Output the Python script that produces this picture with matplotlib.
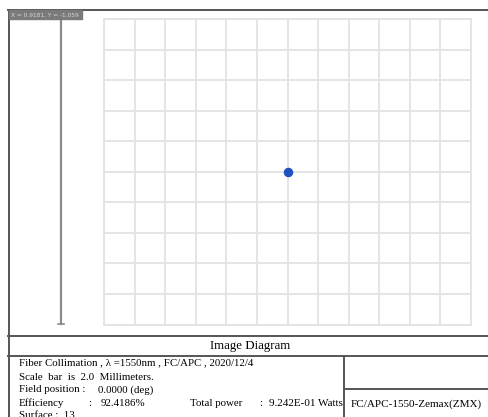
import numpy as np
import matplotlib.pyplot as plt

# spot position on the image plane (single ray bundle centred on axis)
spot_x = [0.0]
spot_y = [0.0]
grid_cols = 12
grid_rows = 10

title = "Image Diagram"
info_lines = [
    "Fiber Collimation , \u03bb =1550nm , FC/APC , 2020/12/4",
    "Scale  bar  is  2.0  Millimeters.",
]
field_label, field_value = "Field position :", "0.0000 (deg)"
eff_label, eff_value = "Efficiency", "92.4186%"
power_label, power_value = "Total power", "9.242E-01 Watts"
surface_text = "Surface :  13"
file_tag = "FC/APC-1550-Zemax(ZMX)"
cursor_text = "X = 0.9181, Y = -1.059"

W, H = 488, 417
fig = plt.figure(figsize=(W / 100, H / 100), dpi=100)
plt.rcParams['font.family'] = ['Liberation Serif', 'DejaVu Serif']

# background axes in pixel units for frame and text
bg = fig.add_axes([0, 0, 1, 1])
bg.set_xlim(0, W)
bg.set_ylim(H, 0)
bg.axis('off')

frame = dict(color='#555555', lw=1.4)
bg.plot([8, W], [9.5, 9.5], **frame)
bg.plot([8.5, 8.5], [9.5, H], **frame)
bg.plot([8, W], [335.5, 335.5], **frame)
bg.plot([8, W], [355.5, 355.5], **frame)
bg.plot([343.5, 343.5], [355.5, H], **frame)
bg.plot([343.5, W], [388.5, 388.5], **frame)

# scale bar
bg.plot([61, 61], [19, 324], color='#8a8a8a', lw=1.6)
bg.plot([58, 64], [324, 324], color='#8a8a8a', lw=1.2)

# cursor readout box
bg.add_patch(plt.Rectangle((9, 10), 73, 9, color='#7a7a7a', zorder=5))
bg.text(11, 14.8, cursor_text, fontsize=4.2, color='#d8d8d8', va='center',
        family='DejaVu Sans', zorder=6)

fs = 7.8
bg.text(250, 346, title, fontsize=9.3, ha='center', va='center')
bg.text(19, 363, info_lines[0], fontsize=fs, va='center')
bg.text(19, 377, info_lines[1], fontsize=fs, va='center')
bg.text(19, 390, field_label, fontsize=fs, va='center')
bg.text(98, 390, field_value, fontsize=fs, va='center')
bg.text(19, 403.5, eff_label, fontsize=fs, va='center')
bg.text(88, 403.5, ":", fontsize=fs, va='center')
bg.text(101, 403.5, eff_value, fontsize=fs, va='center')
bg.text(190, 403.5, power_label, fontsize=fs, va='center')
bg.text(259, 403.5, ":", fontsize=fs, va='center')
bg.text(343, 403.5, power_value, fontsize=8.0, va='center', ha='right')
bg.text(19, 416, surface_text, fontsize=fs, va='center')
bg.text(416, 404.5, file_tag, fontsize=8.0, va='center', ha='center')

# spot diagram grid
ax = fig.add_axes([104 / W, 1 - 324.5 / H, 367 / W, 305.5 / H])
ax.set_xlim(-grid_cols / 2, grid_cols / 2)
ax.set_ylim(-grid_rows / 2, grid_rows / 2)
ax.set_xticks(np.arange(-grid_cols / 2, grid_cols / 2 + 1))
ax.set_yticks(np.arange(-grid_rows / 2, grid_rows / 2 + 1))
ax.grid(True, color='#e3e3e3', lw=1.3)
ax.tick_params(length=0, labelbottom=False, labelleft=False)
for s in ax.spines.values():
    s.set_color('#e3e3e3')
    s.set_linewidth(1.3)
ax.scatter(spot_x, spot_y, s=34, color='#2150c0', zorder=3)

fig.savefig('out.png', dpi=100)
